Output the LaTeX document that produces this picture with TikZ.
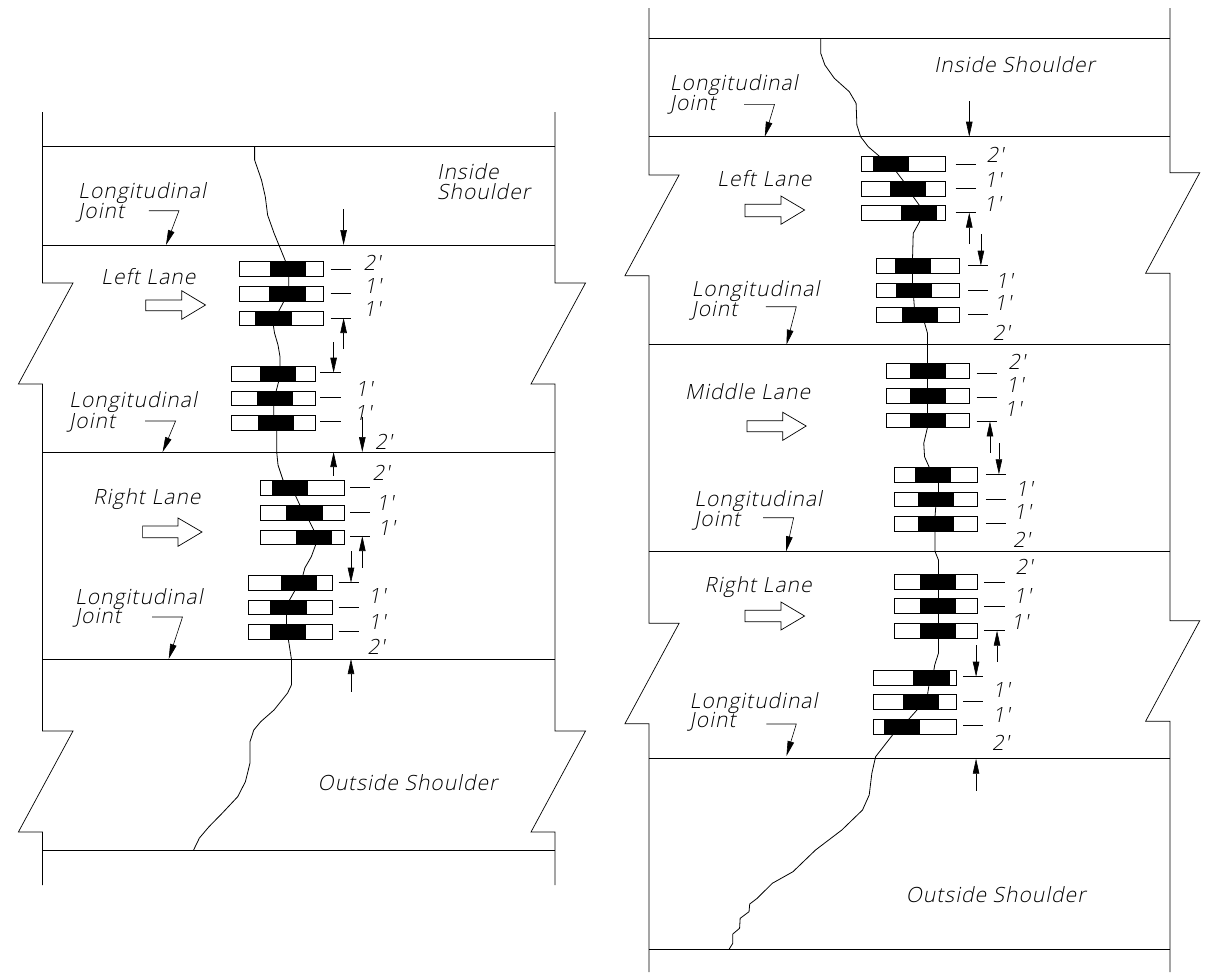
\documentclass[tikz,border=0pt]{standalone}
\usepackage{fontspec}
\usepackage{tikz}
\usetikzlibrary{arrows.meta}
\newfontfamily\cadfont[FakeSlant=0.2,LetterSpace=5]{Open Sans Light}
\tikzset{
  edge/.style={color=black,line width=0.7pt},
  seam/.style={color=black,line width=1pt},
  crack/.style={color=black,line width=0.8pt,line join=round},
  slab/.style={draw=black,fill=white,line width=1pt},
  core/.style={fill=black},
  tick/.style={color=black,line width=0.8pt},
  dim/.style={color=black,line width=0.6pt,-{Triangle[length=15pt,width=6.5pt]}},
  flow/.style={draw=black,fill=white,line width=0.7pt},
  lbl/.style={anchor=base west,inner sep=0pt,font=\cadfont\fontsize{21}{21}\selectfont},
  dimlbl/.style={anchor=center,inner sep=0pt,font=\cadfont\fontsize{21}{21}\selectfont}
}
\begin{document}
\begin{tikzpicture}[x=1pt,y=-1pt]
\useasboundingbox (0,0) rectangle (1209,972);
% Drawing road edges, left plan
\draw[edge] (42.5,112) -- (42.5,283) -- (73,283) -- (18.4,384) -- (42.5,384) -- (42.5,731) -- (73,731) -- (18.4,832) -- (42.5,832) -- (42.5,885);
\draw[edge] (555,112) -- (555,283) -- (585.5,283) -- (531,384) -- (555,384) -- (555,731) -- (585.5,731) -- (531,832) -- (555,832) -- (555,885);
% Drawing seams, left plan
\draw[seam] (42.5,146) -- (555,146);
\draw[seam] (42.5,245) -- (555,245);
\draw[seam] (42.5,452) -- (555,452);
\draw[seam] (42.5,659) -- (555,659);
\draw[seam] (42.5,850) -- (555,850);
% Drawing crack, left plan
\draw[crack] (254.6,146) -- (254.6,160) -- (261.5,180) -- (265.3,196.7) -- (267.6,215) -- (274,233) -- (285.7,261.7) -- (288.7,276.7) -- (288.7,286.7) -- (283.7,301.7) -- (278.8,311) -- (273.4,325.7) -- (274.5,333) -- (278,345) -- (280,356.7) -- (280,366.7) -- (278.8,381) -- (276,391.7) -- (273.8,405.7) -- (273.8,415.7) -- (276.8,430) -- (276.8,453) -- (278,465) -- (283,480) -- (295.2,495) -- (299.8,505) -- (308.7,520) -- (313.7,530) -- (315.6,545) -- (311.3,556.7) -- (304.8,568) -- (303,575) -- (295.2,590) -- (289.5,600) -- (286.4,615) -- (286.4,624.7) -- (288.3,639) -- (291.4,659) -- (291.4,685) -- (287.6,693) -- (274,710) -- (260.7,721.7) -- (253.8,730) -- (250,741.7) -- (250,763) -- (245.4,781.7) -- (237.7,796.7) -- (222.4,813) -- (209,826.7) -- (199.4,838) -- (193.6,850);
% Drawing slabs, left plan
\draw[slab] (239.3,261.7) rectangle (323,276);
\fill[core] (269.6,261.7) rectangle (305.6,276);
\draw[slab] (239.3,286.7) rectangle (323,301);
\fill[core] (269.2,286.7) rectangle (305.6,301);
\draw[slab] (239.3,311) rectangle (323,325.7);
\fill[core] (255.4,311) rectangle (291.8,325.7);
\draw[slab] (231.6,366.7) rectangle (315,381);
\fill[core] (260.4,366.7) rectangle (296.4,381);
\draw[slab] (231.6,391) rectangle (315,405.7);
\fill[core] (256.5,391) rectangle (292.6,405.7);
\draw[slab] (231.6,415.7) rectangle (315,430);
\fill[core] (257.7,415.7) rectangle (294,430);
\draw[slab] (260.7,480.7) rectangle (344.3,495);
\fill[core] (271.5,480.7) rectangle (308,495);
\draw[slab] (260.7,505) rectangle (344.3,520);
\fill[core] (286.4,505) rectangle (322.5,520);
\draw[slab] (260.7,530) rectangle (344.3,544);
\fill[core] (296,530) rectangle (332.4,544);
\draw[slab] (248.8,575) rectangle (332.8,590);
\fill[core] (280.7,575) rectangle (316.7,590);
\draw[slab] (248.8,600) rectangle (332.8,614.7);
\fill[core] (270.3,600) rectangle (306.7,614.7);
\draw[slab] (248.8,624.7) rectangle (332.8,639);
\fill[core] (269.6,624.7) rectangle (305.6,639);
% Drawing ticks, left plan
\draw[tick] (330.5,269) -- (351,269);
\draw[tick] (330.5,293) -- (351,293);
\draw[tick] (330.5,318) -- (351,318);
\draw[tick] (320,372.7) -- (340.5,372.7);
\draw[tick] (320,397) -- (340.5,397);
\draw[tick] (320,421.7) -- (340.5,421.7);
\draw[tick] (350,487) -- (370,487);
\draw[tick] (350,512) -- (370,512);
\draw[tick] (350,536) -- (370,536);
\draw[tick] (338.6,582.7) -- (359,582.7);
\draw[tick] (338.6,607) -- (359,607);
\draw[tick] (338.6,631.7) -- (359,631.7);
% Drawing dimension arrows, left plan
\draw[dim] (343.6,209) -- (343.6,245);
\draw[dim] (343.6,349) -- (343.6,318);
\draw[dim] (333.6,342) -- (333.6,372.7);
\draw[dim] (362.3,416.7) -- (362.3,452);
\draw[dim] (333.6,475.7) -- (333.6,452);
\draw[dim] (362.3,567.7) -- (362.3,536);
\draw[dim] (351,551) -- (351,582.7);
\draw[dim] (351,691.7) -- (351,659);
% Drawing joint leaders, left plan
\draw[dim] (148.8,210.7) -- (179,210.7) -- (166,245);
\draw[dim] (145,421) -- (175.6,421) -- (162.6,452);
\draw[dim] (152,617) -- (182.5,617) -- (168.7,659);
% Drawing traffic arrows, left plan
\draw[flow] (145.7,300) -- (181.7,300) -- (181.7,290.7) -- (205.5,305) -- (181.7,319.3) -- (181.7,310.7) -- (145.7,310.7) -- cycle;
\draw[flow] (142.6,526) -- (178,526) -- (178,518) -- (202,532) -- (178,546.3) -- (178,537.7) -- (142.6,537.7) -- cycle;
% Drawing texts, left plan
\node[lbl] (insideA) at (437,179) {Inside};
\node[lbl] (shoulderA) at (437,199) {Shoulder};
\node[lbl] (jointAa) at (78,198) {Longitudinal};
\node[lbl] (jointAb) at (78,218) {Joint};
\node[lbl] (leftLaneA) at (101,284) {Left Lane};
\node[lbl] (jointBa) at (69,407) {Longitudinal};
\node[lbl] (jointBb) at (69,428) {Joint};
\node[lbl] (rightLaneA) at (93,504) {Right Lane};
\node[lbl] (jointCa) at (74.8,604) {Longitudinal};
\node[lbl] (jointCb) at (74.8,623) {Joint};
\node[lbl] (outsideA) at (317.5,790.7) {Outside Shoulder};
\node[dimlbl] (dimAa) at (372,263) {2'};
\node[dimlbl] (dimAb) at (372.7,286) {1'};
\node[dimlbl] (dimAc) at (372,309) {1'};
\node[dimlbl] (dimAd) at (364,389) {1'};
\node[dimlbl] (dimAe) at (363,413) {1'};
\node[dimlbl] (dimAf) at (383.4,441.7) {2'};
\node[dimlbl] (dimAg) at (381,473) {2'};
\node[dimlbl] (dimAh) at (385,503) {1'};
\node[dimlbl] (dimAi) at (386.5,528) {1'};
\node[dimlbl] (dimAj) at (377,595.7) {1'};
\node[dimlbl] (dimAk) at (377,621.7) {1'};
\node[dimlbl] (dimAl) at (375.8,646.7) {2'};
% Drawing the right plan
\begin{scope}[x=0.98496pt,xshift=9.325pt]
% Drawing road edges, right plan
\draw[edge] (649.4,8) -- (649.4,175) -- (680,175) -- (625,275.7) -- (649.4,275.7) -- (649.4,623.3) -- (680,623.3) -- (625,723.7) -- (649.4,723.7) -- (649.4,972);
\draw[edge] (1178.4,8) -- (1178.4,172.7) -- (1208.6,172.7) -- (1153.6,273.3) -- (1178.4,273.3) -- (1178.4,620.7) -- (1208.6,620.7) -- (1153.6,721.3) -- (1178.4,721.3) -- (1178.4,972);
% Drawing seams, right plan
\draw[seam] (649.4,38.3) -- (1178.4,38.3);
\draw[seam] (649.4,136.7) -- (1178.4,136.7);
\draw[seam] (649.4,344.7) -- (1178.4,344.7);
\draw[seam] (649.4,551.3) -- (1178.4,551.3);
\draw[seam] (649.4,758.7) -- (1178.4,758.7);
\draw[seam] (649.4,949.3) -- (1178.4,949.3);
% Drawing crack, right plan
\draw[crack] (823.8,38.3) -- (823.8,53.3) -- (828,65) -- (837.6,78.3) -- (852.8,91.7) -- (859.7,103.3) -- (860.5,125) -- (864.3,136.7) -- (872,146.7) -- (883.4,156.3) -- (900.5,171.7) -- (908.2,181.7) -- (917.7,196.7) -- (924.2,205.7) -- (924.2,221.7) -- (917.7,233.3) -- (917,258.3) -- (917,283) -- (918.9,307.7) -- (929,322.3) -- (932.2,333.3) -- (932.2,363.3) -- (932.2,427.3) -- (928.4,443.3) -- (929.2,456.7) -- (933.7,466.7) -- (943.3,481.7) -- (943.3,492) -- (940.6,506.7) -- (939.8,516.7) -- (939.8,551.3) -- (943.3,560) -- (943.3,653.3) -- (939.5,665) -- (938.7,670) -- (933.7,685) -- (932.2,694.7) -- (921.5,710) -- (913.1,719.3) -- (896.7,735) -- (879.5,756.7) -- (875.7,773.3) -- (873,795) -- (866.2,810) -- (845.2,830) -- (818.5,850) -- (795.6,871.7) -- (774.6,883.3) -- (759.3,898.3) -- (751.7,904) -- (751,911.7) -- (742,918.3) -- (741.4,928.3) -- (734.5,934) -- (734.5,943.3) -- (730.7,949.3);
% Drawing slabs, right plan
\draw[slab] (865,156.3) rectangle (950,171);
\fill[core] (877.3,156.3) rectangle (913.5,171);
\draw[slab] (865,181.3) rectangle (950,196);
\fill[core] (894.4,181.3) rectangle (931,196);
\draw[slab] (865,205.7) rectangle (950,220);
\fill[core] (905.5,205.7) rectangle (942,220);
\draw[slab] (880.3,258.3) rectangle (965,273);
\fill[core] (899,258.3) rectangle (935.6,273);
\draw[slab] (880.3,283) rectangle (965,297.7);
\fill[core] (900.5,283) rectangle (936.8,297.7);
\draw[slab] (880.3,307.7) rectangle (965,322.3);
\fill[core] (906.6,307.7) rectangle (943.3,322.3);
\draw[slab] (890.2,363.3) rectangle (975.3,378);
\fill[core] (914.6,363.3) rectangle (951.3,378);
\draw[slab] (890.2,388.3) rectangle (975.3,403);
\fill[core] (914.6,388.3) rectangle (951.3,403);
\draw[slab] (890.2,413) rectangle (975.3,427.7);
\fill[core] (914.6,413) rectangle (951.3,427.7);
\draw[slab] (898.6,467.3) rectangle (983.4,482);
\fill[core] (919.2,467.3) rectangle (956.3,482);
\draw[slab] (898.6,492) rectangle (983.4,506.7);
\fill[core] (922.7,492) rectangle (959.3,506.7);
\draw[slab] (898.6,516.7) rectangle (983.4,531.3);
\fill[core] (922.7,516.7) rectangle (959.3,531.3);
\draw[slab] (898.6,574.3) rectangle (983.4,589);
\fill[core] (924.6,574.3) rectangle (961.2,589);
\draw[slab] (898.6,598.7) rectangle (983.4,613.3);
\fill[core] (924.6,598.7) rectangle (961.2,613.3);
\draw[slab] (898.6,623.3) rectangle (983.4,638);
\fill[core] (924.6,623.3) rectangle (961.2,638);
\draw[slab] (876.9,670) rectangle (961.6,685);
\fill[core] (917.7,670) rectangle (954.7,685);
\draw[slab] (876.9,694.7) rectangle (961.6,709.3);
\fill[core] (907,694.7) rectangle (943.7,709.3);
\draw[slab] (876.9,719.3) rectangle (961.6,734);
\fill[core] (888.3,719.3) rectangle (925,734);
% Drawing ticks, right plan
\draw[tick] (960.8,164) -- (981.8,164);
\draw[tick] (960.8,188) -- (981.8,188);
\draw[tick] (960.8,212.7) -- (981.8,212.7);
\draw[tick] (973.4,265.7) -- (994,265.7);
\draw[tick] (973.4,290) -- (994,290);
\draw[tick] (973.4,314.3) -- (994,314.3);
\draw[tick] (982,373) -- (1003,373);
\draw[tick] (982,397) -- (1003,397);
\draw[tick] (982,421.3) -- (1003,421.3);
\draw[tick] (991.4,474.3) -- (1012,474.3);
\draw[tick] (991.4,499) -- (1012,499);
\draw[tick] (991.4,523) -- (1012,523);
\draw[tick] (990,582) -- (1010.5,582);
\draw[tick] (990,606.3) -- (1010.5,606.3);
\draw[tick] (990,630.7) -- (1010.5,630.7);
\draw[tick] (968.5,676.7) -- (989,676.7);
\draw[tick] (968.5,701.3) -- (989,701.3);
\draw[tick] (968.5,725.7) -- (989,725.7);
% Drawing dimension arrows, right plan
\draw[dim] (974.6,101) -- (974.6,136.7);
\draw[dim] (974.6,244) -- (974.6,212.7);
\draw[dim] (986.4,234.3) -- (986.4,265.7);
\draw[dim] (995.6,452.7) -- (995.6,421.3);
\draw[dim] (1004.7,443.3) -- (1004.7,474.3);
\draw[dim] (1002.8,661.7) -- (1002.8,630.7);
\draw[dim] (981.5,645) -- (981.5,676.7);
\draw[dim] (981.5,790.7) -- (981.5,758.7);
% Drawing joint leaders, right plan
\draw[dim] (746,104.3) -- (776.9,104.3) -- (767,136.7);
\draw[dim] (768,306.7) -- (799,306.7) -- (789,344.7);
\draw[dim] (765.4,517.7) -- (796.3,517.7) -- (788.7,551.3);
\draw[dim] (768.5,724) -- (799,724) -- (789,756);
% Drawing traffic arrows, right plan
\draw[flow] (747,204.3) -- (783.4,204.3) -- (783.4,196) -- (807.4,210) -- (783.4,224.3) -- (783.4,216.7) -- (747,216.7) -- cycle;
\draw[flow] (749,420.7) -- (785.3,420.7) -- (785.3,412.3) -- (809,426) -- (785.3,440.3) -- (785.3,431.7) -- (749,431.7) -- cycle;
\draw[flow] (747,610.3) -- (783.4,610.3) -- (783.4,602) -- (807.4,616) -- (783.4,630) -- (783.4,621.7) -- (747,621.7) -- cycle;
% Drawing texts, right plan
\node[lbl] (insideB) at (938.7,72) {Inside Shoulder};
\node[lbl] (jointDa) at (670.4,90.7) {Longitudinal};
\node[lbl] (jointDb) at (670.4,110.7) {Joint};
\node[lbl] (leftLaneB) at (718.5,186) {Left Lane};
\node[lbl] (jointEa) at (692.5,296) {Longitudinal};
\node[lbl] (jointEb) at (692.5,316) {Joint};
\node[lbl] (middleLane) at (686,399.3) {Middle Lane};
\node[lbl] (jointFa) at (695.2,506.7) {Longitudinal};
\node[lbl] (jointFb) at (695.2,526.7) {Joint};
\node[lbl] (rightLaneB) at (705.5,592.7) {Right Lane};
\node[lbl] (jointGa) at (690.6,708.3) {Longitudinal};
\node[lbl] (jointGb) at (690.6,727.7) {Joint};
\node[lbl] (outsideB) at (910,902.3) {Outside Shoulder};
\node[dimlbl] (dimBa) at (1000.5,155) {2'};
\node[dimlbl] (dimBb) at (998.6,180) {1'};
\node[dimlbl] (dimBc) at (998,204) {1'};
\node[dimlbl] (dimBd) at (1010,280.7) {1'};
\node[dimlbl] (dimBe) at (1008.5,302.7) {1'};
\node[dimlbl] (dimBf) at (1007,332.7) {2'};
\node[dimlbl] (dimBg) at (1022.7,361.7) {2'};
\node[dimlbl] (dimBh) at (1020.8,385) {1'};
\node[dimlbl] (dimBi) at (1019,409.3) {1'};
\node[dimlbl] (dimBj) at (1030.3,489.3) {1'};
\node[dimlbl] (dimBk) at (1028.4,512.3) {1'};
\node[dimlbl] (dimBl) at (1027.6,540) {2'};
\node[dimlbl] (dimBm) at (1030,566.7) {2'};
\node[dimlbl] (dimBn) at (1028.4,595.7) {1'};
\node[dimlbl] (dimBo) at (1025.7,621.7) {1'};
\node[dimlbl] (dimBp) at (1007,690) {1'};
\node[dimlbl] (dimBq) at (1007,715) {1'};
\node[dimlbl] (dimBr) at (1006.3,742.7) {2'};
\end{scope}
\end{tikzpicture}
\end{document}
